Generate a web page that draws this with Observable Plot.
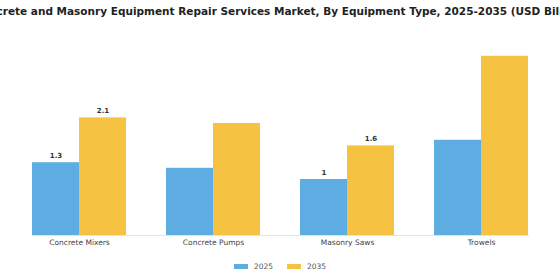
<!DOCTYPE html>
<html>
<head>
<meta charset="utf-8">
<script src="https://cdn.jsdelivr.net/npm/d3@7"></script>
<script src="https://cdn.jsdelivr.net/npm/@observablehq/plot@0.6"></script>
<style>
  html, body { margin: 0; padding: 0; background: #fff; overflow: hidden; width: 560px; height: 280px; }
  body { font-family: "DejaVu Sans", sans-serif; }
  #title { width: 560px; height: 22px; display: flex; justify-content: center; align-items: center; white-space: nowrap; overflow: hidden; }
  #title span { font-weight: bold; font-size: 10.5px; color: #222; flex: none; }
  #legend { width: 560px; height: 28px; display: flex; justify-content: center; align-items: center; gap: 0; font-size: 7.5px; color: #555; }
  .item { display: flex; align-items: center; margin: 0 7px; }
  .sw { width: 14px; height: 5px; margin-right: 6px; }
</style>
</head>
<body>
<div id="title"><span>Concrete and Masonry Equipment Repair Services Market, By Equipment Type, 2025-2035 (USD Billion)</span></div>
<div id="chart"></div>
<div id="legend"></div>
<script>
const categories = ["Concrete Mixers", "Concrete Pumps", "Masonry Saws", "Trowels"];
const years = ["2025", "2035"];
const values2025 = [1.3, 1.2, 1.0, 1.7];
const values2035 = [2.1, 2.0, 1.6, 3.2];
const labeledCategories = ["Concrete Mixers", "Masonry Saws"];
const colors = ["#5DADE2", "#F5C242"];

const data = [];
categories.forEach((c, i) => {
  data.push({category: c, year: years[0], value: values2025[i]});
  data.push({category: c, year: years[1], value: values2035[i]});
});
const labelData = data.filter(d => labeledCategories.includes(d.category));

const chart = Plot.plot({
  width: 560,
  height: 230,
  marginLeft: 7,
  marginRight: 7,
  marginTop: 17,
  marginBottom: 17,
  style: {fontFamily: "DejaVu Sans, sans-serif", background: "#fff"},
  fx: {domain: categories, paddingInner: 0.3, paddingOuter: 0.187, label: null, axis: null},
  x: {domain: years, padding: 0, axis: null},
  y: {domain: [0, 3.5], axis: null},
  color: {domain: years, range: colors},
  marks: [
    Plot.frame({anchor: "bottom", stroke: "#e3e3e3", strokeWidth: 1, facet: "super"}),
    Plot.barY(data, {fx: "category", x: "year", y: "value", fill: "year"}),
    Plot.text(labelData, {fx: "category", x: "year", y: "value", text: d => String(d.value), dy: -7, fontSize: 7, fontWeight: "bold", fill: "#333"}),
    Plot.axisFx({anchor: "bottom", tickSize: 0, tickPadding: 4, fontSize: 7.5, color: "#444", label: null})
  ]
});
document.getElementById("chart").appendChild(chart);

const legend = document.getElementById("legend");
years.forEach((y, i) => {
  const item = document.createElement("div");
  item.className = "item";
  const sw = document.createElement("div");
  sw.className = "sw";
  sw.style.background = colors[i];
  const t = document.createElement("span");
  t.textContent = y;
  item.appendChild(sw);
  item.appendChild(t);
  legend.appendChild(item);
});
</script>
</body>
</html>
